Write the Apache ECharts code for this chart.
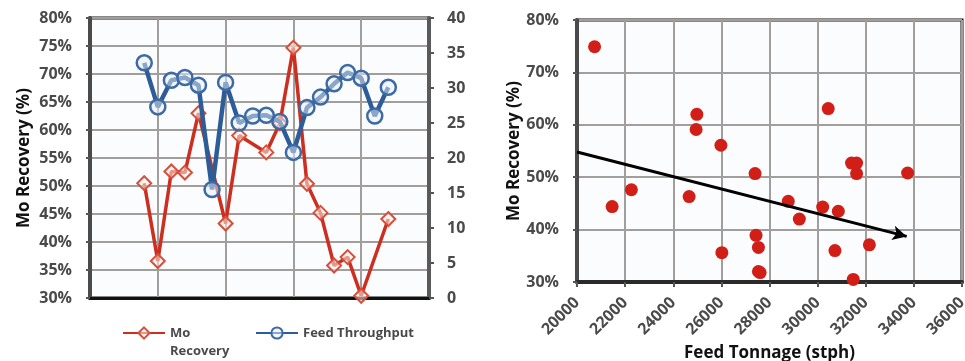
<!DOCTYPE html>
<html>
<head>
<meta charset="utf-8">
<script src="https://cdn.jsdelivr.net/npm/echarts@6/dist/echarts.min.js"></script>
<style>
  html, body { margin: 0; padding: 0; background: #ffffff; }
  #chart { width: 965px; height: 361px; }
</style>
</head>
<body>
<div id="chart"></div>
<script>
// Time-series panel: sample positions along the run and the two measured series
const sampleIndex = [4, 5, 6, 7, 8, 9, 10, 11, 12, 13, 14, 15, 16, 17, 18, 19, 20, 21, 22];
const moRecovery = [50.5, 36.6, 52.6, 52.4, 63.0, null, 43.3, 59.0, null, 56.0, 61.2, 74.7, 50.4, 45.2, 35.8, 37.3, 30.4, null, 44.1];
const feedThroughput = [33.6, 27.3, 31.1, 31.5, 30.4, 15.5, 30.8, 25.0, 26.0, 26.1, 25.2, 20.8, 27.2, 28.7, 30.6, 32.2, 31.4, 26.0, 30.1];

// Scatter panel: feed tonnage vs Mo recovery
const feedTonnage = [20730, 21460, 22260, 24660, 24950, 24980, 25980, 26020, 27400, 27440, 27540, 27540, 27610, 28780, 29240, 30210, 30440, 30720, 30860, 31410, 31480, 31620, 31620, 32150, 33740];
const scatterRecovery = [74.9, 44.4, 47.6, 46.3, 59.1, 62.0, 56.1, 35.6, 50.7, 38.9, 36.6, 32.0, 31.8, 45.4, 42.0, 44.3, 63.1, 36.0, 43.5, 52.7, 30.5, 52.7, 50.7, 37.1, 50.8];

// Trend arrow end points [tonnage, recovery %]
const trendStart = [20000, 54.8];
const trendEnd = [33700, 38.7];

const FONT = '"Open Sans", "DejaVu Sans", sans-serif';
const TICK_COLOR = '#4a4a4a';
const GRID_COLOR = '#a29e9b';
const RED = '#cc2e1f';
const BLUE = '#2c5d98';

const chart = echarts.init(document.getElementById('chart'), null, { renderer: 'canvas' });

const tickText = { fontFamily: FONT, fontSize: 16, fontWeight: 'bold', color: TICK_COLOR };
const titleText = { fontFamily: FONT, fontSize: 17, fontWeight: 'bold', color: '#111' };

const option = {
  backgroundColor: '#ffffff',
  animation: false,
  grid: [
    { left: 90, right: 536, top: 18, bottom: 63, outerBoundsMode: 'none', containLabel: false, show: true, backgroundColor: '#fbfcfe', borderColor: '#111', borderWidth: 3 },
    { left: 577, right: 3, top: 20, bottom: 79, outerBoundsMode: 'none', containLabel: false, show: true, backgroundColor: '#fbfcfe', borderColor: '#111', borderWidth: 3 }
  ],
  legend: [
    {
      data: ['Mo Recovery'], left: 122, top: 306, padding: 0,
      itemWidth: 42, itemHeight: 14,
      formatter: () => '\nMo\nRecovery',
      textStyle: { fontFamily: FONT, fontSize: 13, fontWeight: 'bold', color: TICK_COLOR, lineHeight: 18 }
    },
    {
      data: ['Feed Throughput'], left: 255, top: 324, padding: 0,
      itemWidth: 42, itemHeight: 14,
      textStyle: { fontFamily: FONT, fontSize: 13, fontWeight: 'bold', color: TICK_COLOR, lineHeight: 18 }
    }
  ],
  xAxis: [
    {
      gridIndex: 0, type: 'value', min: 0, max: 25, interval: 5,
      axisLabel: { show: false },
      axisTick: { show: false },
      axisLine: { lineStyle: { color: '#111', width: 3 } },
      splitLine: { show: true, lineStyle: { color: GRID_COLOR, width: 2 } }
    },
    {
      gridIndex: 1, type: 'value', min: 20000, max: 36000, interval: 2000,
      name: 'Feed Tonnage (stph)', nameLocation: 'middle', nameGap: 57,
      nameTextStyle: titleText,
      axisLabel: Object.assign({ rotate: 45, margin: 18, formatter: (v) => String(v) }, tickText),
      axisTick: { show: true, length: 5, lineStyle: { color: '#555', width: 2 } },
      axisLine: { lineStyle: { color: '#2a2a2a', width: 4 } },
      splitLine: { show: true, lineStyle: { color: GRID_COLOR, width: 2 } }
    }
  ],
  yAxis: [
    {
      gridIndex: 0, type: 'value', min: 30, max: 80, interval: 5,
      name: 'Mo Recovery (%)', nameLocation: 'middle', nameGap: 57,
      nameTextStyle: titleText,
      axisLabel: Object.assign({ formatter: '{value}%', margin: 18 }, tickText),
      axisTick: { show: true, length: 4, lineStyle: { color: '#555', width: 2 } },
      axisLine: { show: true, lineStyle: { color: '#4a4a4a', width: 4 } },
      splitLine: { show: true, lineStyle: { color: GRID_COLOR, width: 2 } }
    },
    {
      gridIndex: 0, type: 'value', min: 0, max: 40, interval: 5, position: 'right',
      axisLabel: Object.assign({ margin: 18 }, tickText),
      axisTick: { show: true, length: 5, lineStyle: { color: '#555', width: 2 } },
      axisLine: { show: true, lineStyle: { color: '#5a5a5a', width: 4 } },
      splitLine: { show: false }
    },
    {
      gridIndex: 1, type: 'value', min: 30, max: 80, interval: 10,
      name: 'Mo Recovery (%)', nameLocation: 'middle', nameGap: 43,
      nameTextStyle: titleText,
      axisLabel: Object.assign({ formatter: '{value}%', margin: 18 }, tickText),
      axisTick: { show: true, length: 4, lineStyle: { color: '#555', width: 2 } },
      axisLine: { show: true, lineStyle: { color: '#4a4a4a', width: 4 } },
      splitLine: { show: true, lineStyle: { color: GRID_COLOR, width: 2 } }
    }
  ],
  series: [
    {
      name: 'Mo Recovery', type: 'line', xAxisIndex: 0, yAxisIndex: 0,
      data: sampleIndex.map((x, i) => [x, moRecovery[i] === null ? '-' : moRecovery[i]]),
      connectNulls: true,
      symbol: 'diamond', symbolSize: [14, 14],
      lineStyle: { color: RED, width: 3.5 },
      itemStyle: { color: 'rgba(255,238,232,0.55)', borderColor: '#d4503c', borderWidth: 2 },
      z: 3
    },
    {
      name: 'Feed Throughput', type: 'line', xAxisIndex: 0, yAxisIndex: 1,
      data: sampleIndex.map((x, i) => [x, feedThroughput[i]]),
      symbol: 'circle', symbolSize: 15,
      lineStyle: { color: BLUE, width: 4.5 },
      itemStyle: { color: 'rgba(232,240,250,0.5)', borderColor: '#3d6aa3', borderWidth: 2.5 },
      z: 4
    },
    {
      name: 'Scatter', type: 'scatter', xAxisIndex: 1, yAxisIndex: 2,
      data: feedTonnage.map((t, i) => [t, scatterRecovery[i]]),
      symbol: 'circle', symbolSize: 13,
      itemStyle: { color: '#d11f17', opacity: 1 },
      markLine: {
        silent: true,
        symbol: ['none', 'arrow'],
        symbolSize: [11, 14],
        label: { show: false },
        lineStyle: { color: '#000', width: 3, type: 'solid' },
        data: [[{ coord: trendStart }, { coord: trendEnd }]]
      },
      z: 3
    }
  ]
};

chart.setOption(option);
</script>
</body>
</html>
